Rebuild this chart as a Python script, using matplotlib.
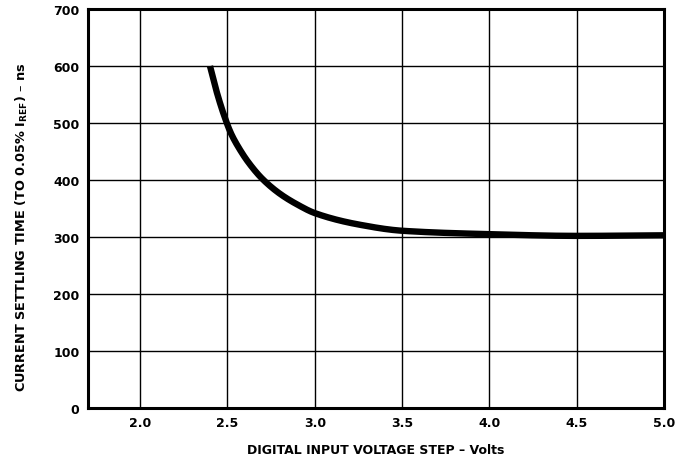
import matplotlib
matplotlib.use("Agg")
import matplotlib.pyplot as plt
import numpy as np

plt.rcParams['font.family'] = ['DejaVu Sans']
plt.rcParams['mathtext.fontset'] = 'dejavusans'

# Data
voltage = [2.40, 2.44, 2.48, 2.52, 2.57, 2.62, 2.70, 2.80, 2.90, 3.00, 3.25, 3.50, 4.00, 4.50, 5.00]
settling_ns = [600, 553, 514, 482, 454, 431, 402, 376, 357, 342, 322, 311, 305, 302, 303]

x_ticks = [2.0, 2.5, 3.0, 3.5, 4.0, 4.5, 5.0]
x_tick_labels = ["2.0", "2.5", "3.0", "3.5", "4.0", "4.5", "5.0"]
y_ticks = [0, 100, 200, 300, 400, 500, 600, 700]

fig = plt.figure(figsize=(6.91, 4.60), dpi=100)
ax = fig.add_axes([0.127, 0.111, 0.834, 0.867])


def pchip(x, y, xn):
    x = np.asarray(x, float); y = np.asarray(y, float)
    h = np.diff(x); d = np.diff(y) / h
    m = np.zeros_like(y)
    for k in range(1, len(x) - 1):
        if d[k-1] * d[k] > 0:
            w1 = 2*h[k] + h[k-1]; w2 = h[k] + 2*h[k-1]
            m[k] = (w1 + w2) / (w1/d[k-1] + w2/d[k])
    m[0] = d[0]; m[-1] = d[-1]
    k = np.clip(np.searchsorted(x, xn) - 1, 0, len(x) - 2)
    t = (xn - x[k]) / h[k]
    h00 = 2*t**3 - 3*t**2 + 1; h10 = t**3 - 2*t**2 + t
    h01 = -2*t**3 + 3*t**2; h11 = t**3 - t**2
    return h00*y[k] + h10*h[k]*m[k] + h01*y[k+1] + h11*h[k]*m[k+1]


xn = np.linspace(voltage[0], voltage[-1], 600)
ax.plot(xn, pchip(voltage, settling_ns, xn), color='black', lw=4.6,
        solid_capstyle='butt', zorder=3)

ax.set_xlim(1.7, 5.0)
ax.set_ylim(0, 700)
ax.set_xticks(x_ticks)
ax.set_xticklabels(x_tick_labels)
ax.set_yticks(y_ticks)
ax.grid(True, color='black', lw=1.0)
ax.tick_params(length=0, pad=6, labelsize=9)
for lab in ax.get_xticklabels() + ax.get_yticklabels():
    lab.set_fontweight('bold')
for s in ax.spines.values():
    s.set_linewidth(2.2)

ax.set_xlabel("DIGITAL INPUT VOLTAGE STEP \u2013 Volts", fontsize=9, fontweight='bold', labelpad=10)
ax.set_ylabel("CURRENT SETTLING TIME (TO 0.05% I$_{\\mathbf{REF}}$) \u2013 ns",
              fontsize=9.3, fontweight='bold')
ax.yaxis.set_label_coords(-0.10, 0.455)

fig.savefig("out.png", dpi=100)
